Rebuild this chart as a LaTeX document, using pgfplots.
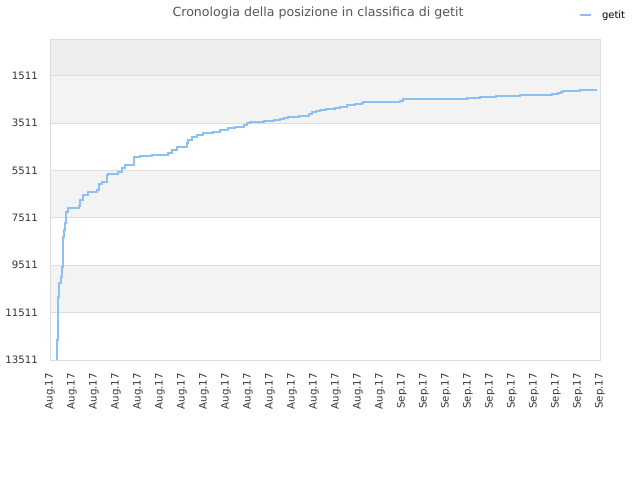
\documentclass[border=0pt]{standalone}
\usepackage{pgfplots}
\pgfplotsset{compat=1.18}
\usepackage{fontspec}
\setmainfont{DejaVu Sans}
\definecolor{lineblue}{RGB}{140,192,242}
\definecolor{bandA}{RGB}{238,238,238}
\definecolor{bandB}{RGB}{243,243,243}
\definecolor{gridc}{RGB}{221,221,221}
\definecolor{ticktxt}{RGB}{51,51,51}
\definecolor{titletxt}{RGB}{85,85,85}
\begin{document}
\begin{tikzpicture}
\begin{axis}[
  set layers,
  at={(50pt,120pt)}, anchor=south west,
  scale only axis, width=550pt, height=320pt,
  xmin=50, xmax=600, ymin=0, ymax=13511,
  y dir=reverse,
  scaled y ticks=false, scaled x ticks=false,
  axis line style={draw=gridc, line width=1pt},
  major tick length=0pt,
  ymajorgrids, grid style={draw=gridc, line width=1pt},
  ytick={1511,3511,5511,7511,9511,11511,13511},
  yticklabels={1511,3511,5511,7511,9511,11511,13511},
  yticklabel style={inner sep=0pt, anchor=east, xshift=-12pt, text=ticktxt, font=\fontsize{10.2}{12}\selectfont},
  xtick={50,72,94,116,138,160,182,204,226,248,270,292,314,336,358,380,402,424,446,468,490,512,534,556,578,600},
  xticklabels={Aug.17,Aug.17,Aug.17,Aug.17,Aug.17,Aug.17,Aug.17,Aug.17,Aug.17,Aug.17,Aug.17,Aug.17,Aug.17,Aug.17,Aug.17,Aug.17,Sep.17,Sep.17,Sep.17,Sep.17,Sep.17,Sep.17,Sep.17,Sep.17,Sep.17,Sep.17},
  xticklabel style={rotate=90, anchor=east, inner sep=0pt, text=ticktxt, font=\fontsize{10.2}{12}\selectfont},
  xticklabel shift=13pt,
  legend style={draw=none, fill=none, at={(0.9618,1.078)}, anchor=west, inner sep=0pt, outer sep=0pt,
    nodes={inner sep=0pt}, /tikz/column sep=10pt, font=\fontsize{10}{12}\selectfont},
  legend image code/.code={\draw[#1] (0pt,0pt) -- (11pt,0pt);},
]
\addplot[forget plot, draw=none, fill=bandA, on layer=axis background] coordinates {(50,0) (600,0) (600,1511) (50,1511)} -- cycle;
\addplot[forget plot, draw=none, fill=bandB, on layer=axis background] coordinates {(50,1511) (600,1511) (600,3511) (50,3511)} -- cycle;
\addplot[forget plot, draw=none, fill=bandB, on layer=axis background] coordinates {(50,5511) (600,5511) (600,7511) (50,7511)} -- cycle;
\addplot[forget plot, draw=none, fill=bandB, on layer=axis background] coordinates {(50,9511) (600,9511) (600,11511) (50,11511)} -- cycle;
\addplot[const plot, color=lineblue, line width=2pt] coordinates {
(56.7,13511) (56.7,12665) (57.7,10836) (59,10257) (60.7,10003) (62,9581)
(62.7,8313) (64,8018) (65,7722) (66,7257) (68.3,7088) (79,7004) (80,6750)
(83.3,6539) (88.3,6412) (96.7,6328) (99.3,6074) (101.7,5990) (106.7,5694)
(108.3,5652) (118.3,5567) (121.7,5398) (125,5271) (134.3,4921) (140,4878)
(151.7,4849) (168.3,4764) (171.7,4638) (176.7,4511) (186.7,4342) (188.3,4215)
(191.7,4076) (196.7,4004) (203.3,3919) (213.3,3864) (220,3793) (228.3,3695)
(235,3653) (244,3581) (246.7,3509) (250,3467) (255,3442) (264.3,3400)
(274.3,3357) (280,3315) (284,3273) (288.3,3231) (299,3188) (309,3117)
(311.7,3045) (315.7,3003) (320,2948) (326,2893) (335,2850) (340,2808)
(346.7,2749) (355,2707) (361.7,2665) (363.3,2622) (370,2597) (400,2555)
(402.7,2510) (445,2483) (466.7,2441) (480,2398) (496,2356) (520,2314)
(551.7,2272) (558.3,2229) (560.7,2187) (563.3,2145) (580,2103) (596.7,2103)
};
\addlegendentry{getit}
\end{axis}
\node[anchor=center, inner sep=0pt, text=titletxt, font=\fontsize{12.6}{15}\selectfont] at (318pt,467pt) {Cronologia della posizione in classifica di getit};
\path (0pt,0pt) rectangle (640pt,480pt);
\end{tikzpicture}
\end{document}
